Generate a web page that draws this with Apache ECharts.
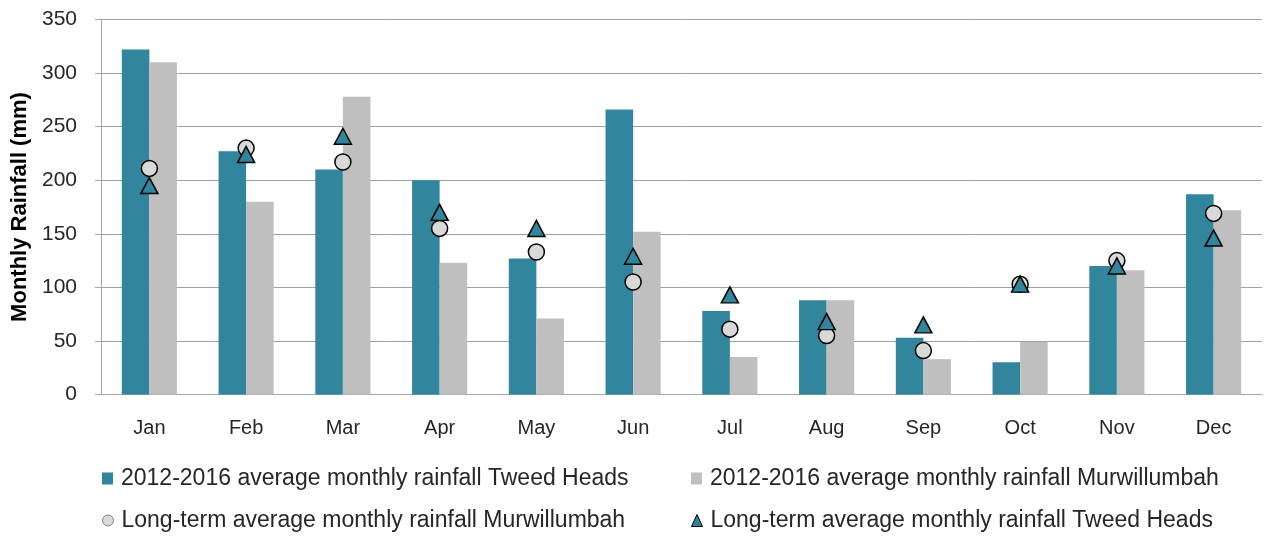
<!DOCTYPE html>
<html><head><meta charset="utf-8">
<script src="https://cdn.jsdelivr.net/npm/echarts@6/dist/echarts.min.js"></script>
<style>html,body{margin:0;padding:0;background:#fff}#c{width:1264px;height:536px}</style>
</head><body><div id="c"></div>
<script>
const months = ['Jan','Feb','Mar','Apr','May','Jun','Jul','Aug','Sep','Oct','Nov','Dec'];
const tweedRecent = [322,227,210,200,127,266,78,88,53,30,120,187];
const murRecent = [310,180,278,123,71,152,35,88,33,49,116,172];
const murLong = [211,230,217,155,133,105,61,55,41,103,125,169];
const tweedLong = [195,224,241,170,155,129,93,68,65,103,120,146];
const names = ['2012-2016 average monthly rainfall Tweed Heads','2012-2016 average monthly rainfall Murwillumbah','Long-term average monthly rainfall Murwillumbah','Long-term average monthly rainfall Tweed Heads'];
const FONT = 'Liberation Sans';
const teal = '#31859C', grey = '#BFBFBF';
const chart = echarts.init(document.getElementById('c'));
function lg(name, left, top, w, h, icon, style) {
  return {data:[{name:name, icon:icon, itemStyle:style}], left:left, top:top, itemWidth:w, itemHeight:h, itemGap:0, padding:0, selectedMode:false,
    textStyle:{fontFamily:FONT, fontSize:23, color:'#262626', padding:[0,0,0,3]}};
}
chart.setOption({
  animation:false,
  grid:{left:101, right:2, top:19.5, bottom:141.5},
  legend:[
    lg(names[0],102,467,11,12,'rect',{color:teal}),
    lg(names[1],691,467,11,12,'rect',{color:grey}),
    lg(names[2],102,509,11,11,'circle',{color:'#D9D9D9', borderColor:'#7F7F7F', borderWidth:1}),
    lg(names[3],691,509,11,12,'triangle',{color:teal, borderColor:'#000', borderWidth:1})
  ],
  xAxis:{type:'category', data:months, boundaryGap:true,
    axisLine:{lineStyle:{color:'#A6A6A6'}}, axisTick:{length:7, lineStyle:{color:'#A6A6A6'}},
    axisLabel:{fontFamily:FONT, fontSize:20, color:'#262626', margin:24}},
  yAxis:{type:'value', min:0, max:350, interval:50, name:'Monthly Rainfall (mm)', nameLocation:'middle', nameGap:70,
    nameTextStyle:{fontFamily:FONT, fontSize:22, fontWeight:'bold', color:'#000'},
    axisLine:{show:true, lineStyle:{color:'#A6A6A6'}}, axisTick:{show:true, length:6, lineStyle:{color:'#A6A6A6'}},
    splitLine:{lineStyle:{color:'#A0A0A0'}},
    axisLabel:{fontFamily:FONT, fontSize:21, color:'#262626', margin:24}},
  series:[
    {name:names[0], type:'bar', data:tweedRecent, itemStyle:{color:teal}, barGap:'0%', barCategoryGap:'43%'},
    {name:names[1], type:'bar', data:murRecent, itemStyle:{color:grey}},
    {name:names[2], type:'scatter', data:murLong, symbol:'circle', symbolSize:16, z:5,
      itemStyle:{color:'#D9D9D9', borderColor:'#000', borderWidth:1.5, opacity:1}},
    {name:names[3], type:'scatter', data:tweedLong, symbol:'triangle', symbolSize:[17,16], z:6,
      itemStyle:{color:teal, borderColor:'#000', borderWidth:1.5, opacity:1}}
  ]
});
</script></body></html>
